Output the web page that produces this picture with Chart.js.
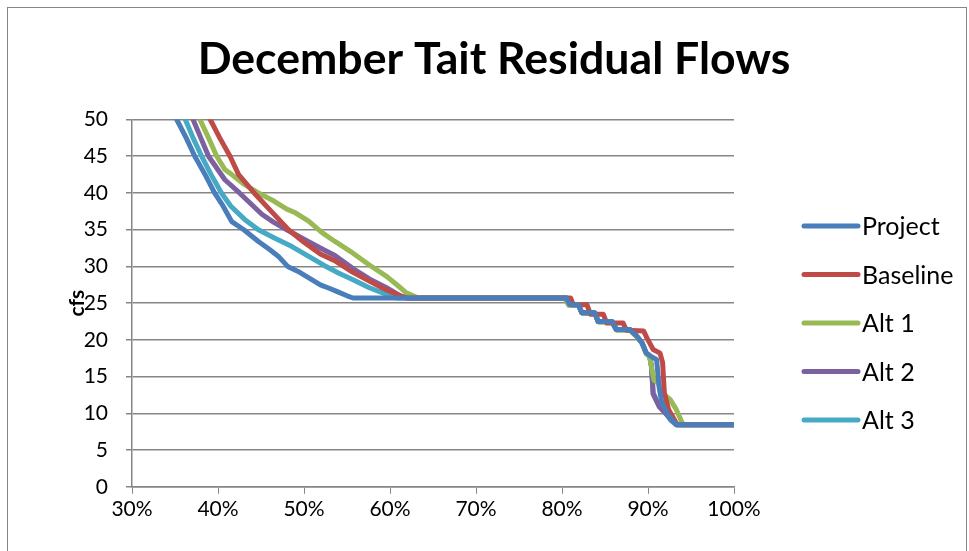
<!DOCTYPE html>
<html>
<head>
<meta charset="utf-8">
<script src="https://cdn.jsdelivr.net/npm/chart.js@4.4.1/dist/chart.umd.min.js"></script>
<style>
  html, body { margin: 0; padding: 0; background: #fff; }
  #wrap { position: relative; width: 969px; height: 551px; }
  #frame { position: absolute; left: 7px; top: 7px; width: 958px; height: 560px; border: 1px solid #868686; pointer-events: none; }
</style>
</head>
<body>
<div id="wrap">
  <canvas id="chart" width="969" height="551"></canvas>
  <div id="frame"></div>
</div>
<script>
// exceedance (%) vs flow (cfs)
const projectPct = [35.2, 36.3, 37.3, 38.5, 39.6, 40.6, 41.6, 43.0, 44.7, 46.0, 47.0, 48.1, 49.5, 50.9, 51.9, 53.0, 53.8, 55.0, 55.7,
  80.5, 80.9, 81.9, 82.3, 83.8, 84.2, 85.8, 86.3, 87.9, 88.7, 89.3, 89.8, 90.3, 91.0, 91.3, 91.6, 92.3, 93.3, 100];
const projectCfs = [50, 47.5, 45, 42.5, 40, 38.2, 36.1, 35, 33.4, 32.3, 31.4, 30.0, 29.2, 28.2, 27.5, 27.0, 26.6, 26.0, 25.7,
  25.7, 24.8, 24.8, 23.7, 23.7, 22.5, 22.5, 21.4, 21.4, 20.5, 19.6, 18.2, 17.8, 17.3, 13.5, 11.5, 9.8, 8.45, 8.45];

const baselinePct = [39.1, 40.2, 41.4, 42.4, 44.2, 46.2, 48.2, 50.0, 51.9, 53.7, 55.7, 57.6, 59.6, 61.2, 62.0,
  81.0, 81.3, 82.9, 83.3, 84.8, 85.2, 87.1, 87.5, 89.5, 89.9, 90.6, 91.4, 91.7, 91.9, 92.4, 93.4, 100];
const baselineCfs = [50, 47.5, 45, 42.5, 40, 37.5, 35, 33.3, 31.7, 30.7, 29.2, 28.0, 26.8, 26.0, 25.7,
  25.7, 24.8, 24.8, 23.5, 23.5, 22.3, 22.3, 21.3, 21.2, 20.2, 18.7, 18.2, 16.9, 12.8, 10.5, 8.45, 8.45];

const alt1Pct = [37.9, 38.9, 39.85, 40.8, 41.6, 43.0, 44.7, 46.5, 48.0, 49.0, 50.5, 52.1, 53.6, 55.7, 57.6, 59.6, 61.0, 61.9, 63.1, 64.0,
  80.3, 80.8, 81.9, 82.4, 83.8, 84.3, 85.8, 86.4, 87.9, 88.7, 89.3, 89.8, 90.2, 90.4, 90.7, 91.2, 91.6, 92.6, 93.3, 93.9, 94.1, 100];
const alt1Cfs = [50, 47.5, 45, 43.2, 42.5, 41.2, 40, 38.9, 37.8, 37.3, 36.2, 34.6, 33.4, 31.8, 30.2, 28.65, 27.3, 26.4, 25.8, 25.7,
  25.7, 24.7, 24.7, 23.6, 23.6, 22.4, 22.4, 21.3, 21.3, 20.4, 19.5, 18.1, 17.7, 16.3, 14.5, 14.1, 12.8, 11.85, 10.5, 8.9, 8.45, 8.45];

const alt2Pct = [37.1, 38.0, 38.9, 40.8, 42.5, 45.1, 46.5, 48.0, 50.0, 51.9, 53.6, 55.7, 57.6, 59.6, 61.2, 62.0,
  80.5, 80.9, 81.9, 82.3, 83.8, 84.2, 85.8, 86.3, 87.9, 88.7, 89.3, 89.8, 90.2, 90.4, 90.6, 91.3, 92.2, 93.3, 100];
const alt2Cfs = [50, 47.5, 45, 41.8, 40, 37.1, 36.0, 35, 33.7, 32.5, 31.5, 29.7, 28.3, 27.1, 26.0, 25.7,
  25.7, 24.8, 24.8, 23.7, 23.7, 22.5, 22.5, 21.4, 21.4, 20.5, 19.6, 18.2, 17.8, 16.4, 12.6, 10.9, 9.8, 8.45, 8.45];

const alt3Pct = [36.2, 37.1, 38.1, 39.2, 40.4, 41.5, 43.1, 44.7, 46.5, 48.6, 50.5, 52.4, 54.0, 55.7, 57.6, 59.6, 60.8,
  80.5, 80.9, 81.9, 82.3, 83.8, 84.2, 85.8, 86.4, 87.9, 88.7, 89.3, 89.8, 90.2, 90.4, 90.6, 91.4, 92.2, 92.6, 93.3, 100];
const alt3Cfs = [50, 47.5, 45, 42.5, 40, 38.2, 36.4, 35, 33.9, 32.7, 31.4, 30.1, 29.1, 28.2, 27.1, 26.2, 25.7,
  25.7, 24.8, 24.8, 23.7, 23.7, 22.5, 22.5, 21.4, 21.4, 20.5, 19.6, 18.2, 17.8, 16.4, 12.8, 10.9, 9.8, 9.1, 8.45, 8.45];

const seriesNames = ['Project', 'Baseline', 'Alt 1', 'Alt 2', 'Alt 3'];
const seriesColors = ['#4a7ebb', '#be4b48', '#98b954', '#7d60a0', '#46aac5'];
const xTicks = [30, 40, 50, 60, 70, 80, 90, 100];
const yTicks = [0, 5, 10, 15, 20, 25, 30, 35, 40, 45, 50];

const pctLists = [projectPct, baselinePct, alt1Pct, alt2Pct, alt3Pct];
const cfsLists = [projectCfs, baselineCfs, alt1Cfs, alt2Cfs, alt3Cfs];

const FONT = 'Lato, "Open Sans", sans-serif';
const axisGray = '#868686';

const datasets = seriesNames.map((name, i) => ({
  label: name,
  data: pctLists[i].map((p, j) => ({ x: p, y: cfsLists[i][j] })),
  borderColor: seriesColors[i],
  backgroundColor: seriesColors[i],
  borderWidth: 5,
  borderCapStyle: 'round',
  borderJoinStyle: 'round',
  pointRadius: 0,
  tension: 0,
  clip: 0
}));

// legend drawn by hand, to sit where Excel put it
const sideLegend = {
  id: 'sideLegend',
  afterDraw(chart) {
    const c = chart.ctx;
    const lineX = chart.chartArea.right + 70;
    const top = 226, step = 48.5;
    c.save();
    c.font = '25px ' + FONT;
    c.textBaseline = 'middle';
    c.fillStyle = '#000';
    seriesNames.forEach((name, i) => {
      const y = top + i * step;
      c.strokeStyle = seriesColors[i];
      c.lineWidth = 5;
      c.lineCap = 'round';
      c.beginPath();
      c.moveTo(lineX, y);
      c.lineTo(lineX + 54, y);
      c.stroke();
      c.fillText(name, lineX + 58, y + 1);
    });
    c.restore();
  }
};

const ctx = document.getElementById('chart').getContext('2d');
new Chart(ctx, {
  type: 'line',
  data: { datasets },
  plugins: [sideLegend],
  options: {
    responsive: false,
    animation: false,
    devicePixelRatio: 1,
    layout: { padding: { left: 19, right: 0, top: 0, bottom: 26 } },
    plugins: {
      title: {
        display: true,
        text: 'December Tait Residual Flows',
        color: '#000',
        font: { family: FONT, size: 44.6, weight: 'bold' },
        padding: { top: 33, bottom: 33 }
      },
      legend: { display: false },
      tooltip: { enabled: false }
    },
    scales: {
      x: {
        type: 'linear',
        min: 30,
        max: 100,
        afterBuildTicks: (scale) => { scale.ticks = xTicks.map(v => ({ value: v })); },
        ticks: {
          color: '#000',
          font: { family: FONT, size: 21 },
          padding: 3,
          callback: (v) => v + '%'
        },
        grid: { drawOnChartArea: false, drawTicks: true, tickLength: 7, color: axisGray },
        border: { color: axisGray, width: 1.5 }
      },
      y: {
        min: 0,
        max: 50,
        afterBuildTicks: (scale) => { scale.ticks = yTicks.map(v => ({ value: v })); },
        afterFit: (scale) => { scale.width = 113; },
        ticks: {
          color: '#000',
          font: { family: FONT, size: 21 },
          padding: 18
        },
        grid: { color: axisGray, lineWidth: 1.5, tickLength: 6 },
        border: { color: axisGray, width: 1.5 },
        title: {
          display: true,
          text: 'cfs',
          color: '#000',
          font: { family: FONT, size: 21, weight: 'bold' },
          padding: { top: 46, bottom: 0 }
        }
      },
      // empty axis on the right just holds the room the legend needs
      side: {
        position: 'right',
        min: 0,
        max: 1,
        afterFit: (scale) => { scale.width = 235; },
        ticks: { display: false },
        grid: { display: false },
        border: { display: false }
      }
    }
  }
});
</script>
</body>
</html>
